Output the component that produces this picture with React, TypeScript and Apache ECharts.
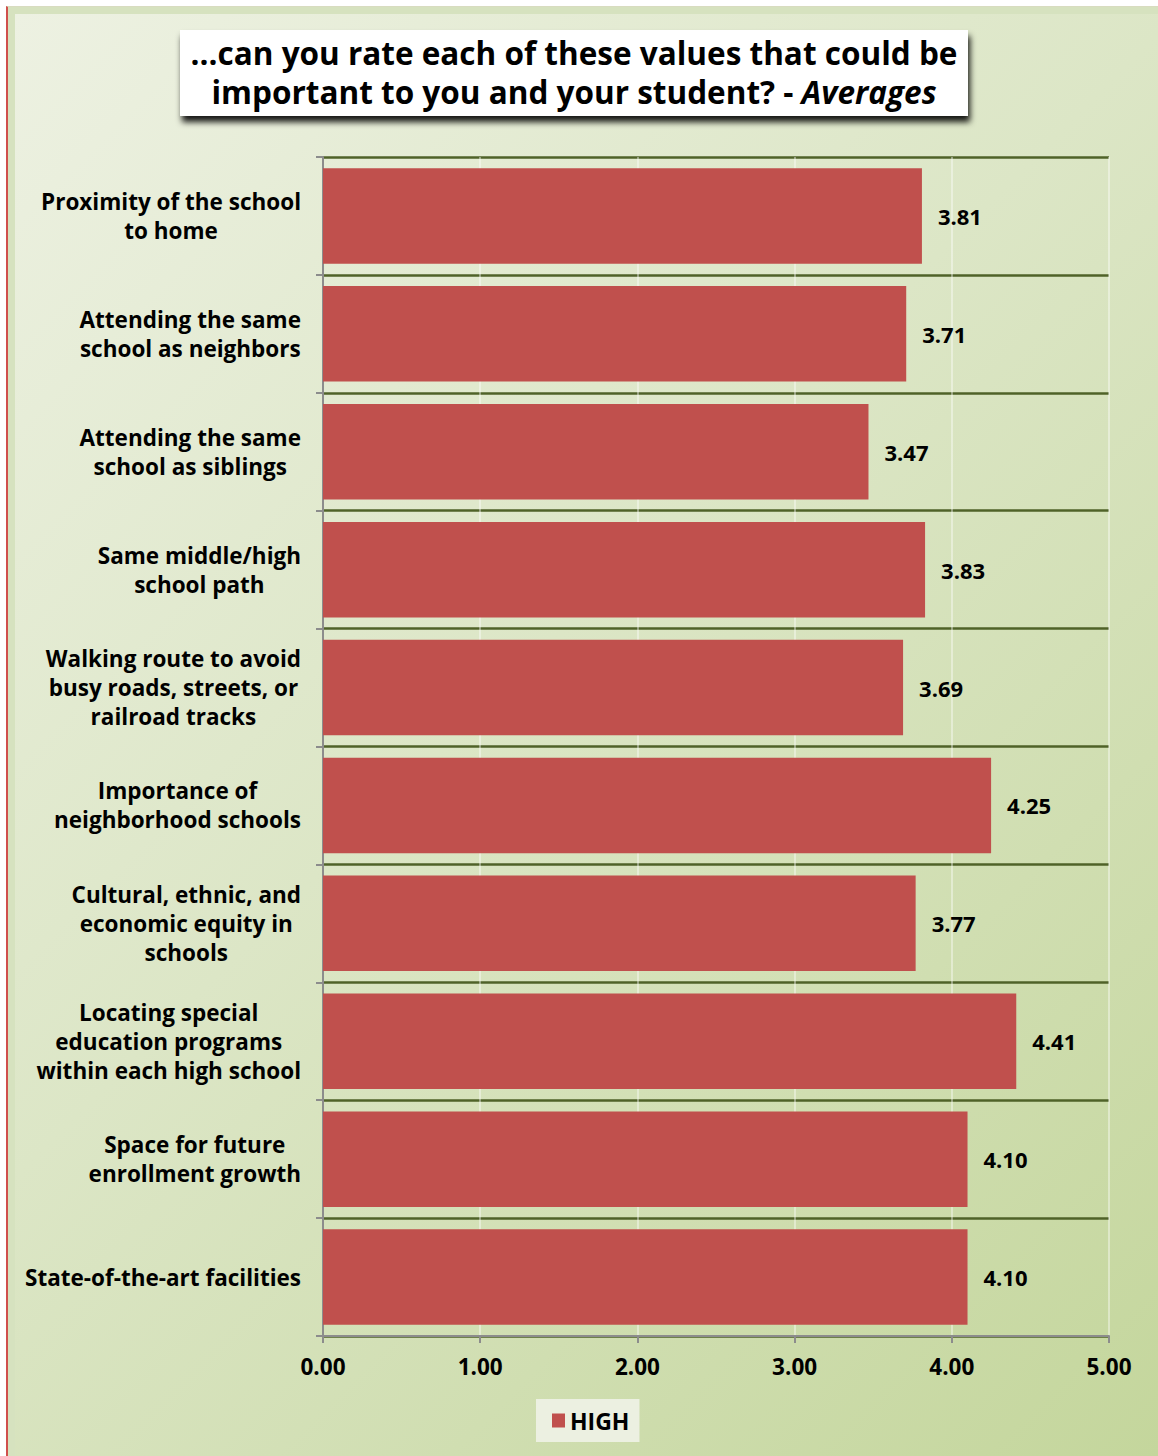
import React, { useEffect, useRef } from "react";
import * as echarts from "echarts";

const categories: string[] = [
  "Proximity of the school\nto home",
  "Attending the same\nschool as neighbors",
  "Attending the same\nschool as siblings",
  "Same middle/high\nschool path",
  "Walking route to avoid\nbusy roads, streets, or\nrailroad tracks",
  "Importance of\nneighborhood schools",
  "Cultural, ethnic, and\neconomic equity in\nschools",
  "Locating special\neducation programs\nwithin each high school",
  "Space for future\nenrollment growth",
  "State-of-the-art facilities",
];
const highValues: number[] = [3.81, 3.71, 3.47, 3.83, 3.69, 4.25, 3.77, 4.41, 4.1, 4.1];
const seriesName = "HIGH";
const xTicks = { min: 0, max: 5, interval: 1 };
const titleLine1 = "...can you rate each of these values that could be";
const titleLine2 = "important to you and your student? - ";
const titleItalic = "Averages";

const FONT = "'Open Sans', 'Noto Sans', sans-serif";

export default function App() {
  const ref = useRef<HTMLDivElement>(null);
  useEffect(() => {
    if (!ref.current) return;
    const chart = echarts.init(ref.current, undefined, { renderer: "svg" });
    chart.setOption({
      animation: false,
      backgroundColor: "transparent",
      textStyle: { fontFamily: FONT },
      grid: { left: 323, right: 49, top: 157, bottom: 120, containLabel: false },
      legend: {
        data: [seriesName],
        left: 536,
        top: 1399,
        backgroundColor: "#ecf0e1",
        padding: [10, 10, 10, 16],
        icon: "rect",
        itemWidth: 13,
        itemHeight: 14,
        itemGap: 4,
        textStyle: { fontFamily: FONT, fontWeight: "bold", fontSize: 23, color: "#000" },
      },
      xAxis: {
        type: "value",
        min: xTicks.min,
        max: xTicks.max,
        interval: xTicks.interval,
        axisLine: { show: true, lineStyle: { color: "#8c8c8c", width: 2 } },
        axisTick: { show: true, length: 7, lineStyle: { color: "#8c8c8c", width: 2 } },
        axisLabel: {
          formatter: (v: number) => v.toFixed(2),
          fontFamily: FONT,
          fontWeight: "bold",
          fontSize: 22.5,
          color: "#000",
          margin: 19,
        },
        splitLine: { show: true, lineStyle: { color: "rgba(255,255,255,0.4)", width: 2 } },
      },
      yAxis: {
        type: "category",
        data: categories,
        inverse: true,
        axisLine: { show: true, lineStyle: { color: "#8c8c8c", width: 2 } },
        axisTick: { show: true, length: 7, lineStyle: { color: "#8c8c8c", width: 2 } },
        splitLine: { show: true, lineStyle: { color: "#4f6228", width: 2.5 } },
        axisLabel: {
          margin: 22,
          align: "right",
          formatter: (v: string) =>
            v
              .split("\n")
              .map((l) => "{c|" + l + "}")
              .join("\n"),
          rich: {
            c: {
              align: "center",
              fontFamily: FONT,
              fontWeight: "bold",
              fontSize: 22.5,
              lineHeight: 29,
              color: "#000",
            },
          },
        },
      },
      series: [
        {
          name: seriesName,
          type: "bar",
          data: highValues,
          barCategoryGap: "19%",
          itemStyle: { color: "#c0504d" },
          label: {
            show: true,
            position: "right",
            distance: 16,
            formatter: (p: any) => Number(p.value).toFixed(2),
            fontFamily: FONT,
            fontWeight: "bold",
            fontSize: 22,
            color: "#000",
          },
        },
      ],
      graphic: [
        {
          type: "rect",
          z: 100,
          shape: { x: 180, y: 30, width: 788, height: 86 },
          style: {
            fill: "#fff",
            shadowBlur: 6,
            shadowOffsetX: 2,
            shadowOffsetY: 6,
            shadowColor: "rgba(0,0,0,0.9)",
          },
        },
        {
          type: "text",
          z: 101,
          x: 574,
          y: 72,
          style: {
            text: "{b|" + titleLine1 + "}\n{b|" + titleLine2 + "}{i|" + titleItalic + "}",
            align: "center",
            verticalAlign: "middle",
            rich: {
              b: { fontFamily: FONT, fontWeight: "bold", fontSize: 31.5, lineHeight: 39, fill: "#000", align: "center" },
              i: {
                fontFamily: FONT,
                fontWeight: "bold",
                fontStyle: "italic",
                fontSize: 31.5,
                lineHeight: 39,
                fill: "#000",
              },
            },
          },
        },
      ],
    });
    return () => chart.dispose();
  }, []);

  return (
    <div style={{ position: "absolute", left: 0, top: 0, width: 1158, height: 1456, background: "#fff" }}>
      <div
        style={{
          position: "absolute",
          left: 6,
          top: 6,
          width: 1152,
          height: 1450,
          boxSizing: "border-box",
          borderLeft: "2px solid #d0504d",
          borderTop: "1px solid #d8dcc0",
          background: "#d6e2bf",
        }}
      />
      <div
        style={{
          position: "absolute",
          left: 15,
          top: 14,
          width: 1143,
          height: 1442,
          background: "linear-gradient(135deg, #edf1e2 0%, #dce6c6 45%, #c4d69c 100%)",
        }}
      />
      <div ref={ref} style={{ position: "absolute", left: 0, top: 0, width: 1158, height: 1456 }} />
    </div>
  );
}
